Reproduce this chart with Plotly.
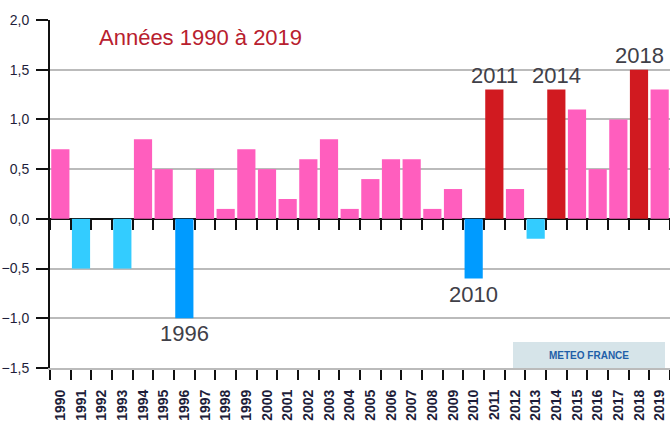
import plotly.graph_objects as go

years = [str(y) for y in range(1990, 2020)]
values = [0.7, -0.5, 0.0, -0.5, 0.8, 0.5, -1.0, 0.5, 0.1, 0.7,
          0.5, 0.2, 0.6, 0.8, 0.1, 0.4, 0.6, 0.6, 0.1, 0.3,
          -0.6, 1.3, 0.3, -0.2, 1.3, 1.1, 0.5, 1.0, 1.5, 1.3]
highlight_years = ["1996", "2010", "2011", "2014", "2018"]

PINK = "#FF5EBE"
RED = "#D11A20"
LBLUE = "#33CCFF"
BLUE = "#009BFF"

colors = []
for y, v in zip(years, values):
    if y in highlight_years:
        colors.append(RED if v > 0 else BLUE)
    else:
        colors.append(PINK if v >= 0 else LBLUE)

FONT = "Liberation Sans, Arial, sans-serif"

fig = go.Figure()
fig.add_trace(go.Bar(x=years, y=values, marker=dict(color=colors, line=dict(width=0)),
                     hoverinfo="x+y"))
# invisible helper trace so the tick axis drawn along the zero line is rendered
fig.add_trace(go.Scatter(x=years, y=values, xaxis="x2", mode="markers",
                         marker=dict(opacity=0), hoverinfo="skip", showlegend=False))

ymin, ymax = -1.5, 2.0

annotations = [
    dict(text="Années 1990 à 2019", xref="paper", yref="paper", x=0.076, y=0.951,
         xanchor="left", yanchor="middle", showarrow=False,
         font=dict(family=FONT, size=22, color="#B8202E")),
]
for i, (y, v) in enumerate(zip(years, values)):
    if y in highlight_years:
        annotations.append(dict(text=y, x=i, y=v, xref="x", yref="y", showarrow=False,
                                xanchor="center", yanchor="bottom" if v > 0 else "top",
                                yshift=0 if v > 0 else -1,
                                font=dict(family=FONT, size=22, color="#404048")))
annotations.append(dict(text="<b>METEO FRANCE</b>", xref="paper", yref="paper",
                        x=(589 - 50) / 620, y=(368 - 355) / 348, xanchor="center", yanchor="middle",
                        showarrow=False, font=dict(family=FONT, size=10, color="#1F5FA8")))

common_x = dict(type="category", categoryorder="array", categoryarray=years,
                range=[-0.5, 29.5], tickson="boundaries",
                ticks="outside", ticklen=10, tickwidth=2, tickcolor="#111",
                showgrid=False, zeroline=False, automargin=False)

fig.update_layout(
    width=670, height=430,
    margin=dict(l=50, r=0, t=20, b=62, autoexpand=False),
    paper_bgcolor="white", plot_bgcolor="white",
    separators=", ",
    bargap=0.12,
    showlegend=False,
    annotations=annotations,
    shapes=[dict(type="rect", xref="paper", yref="paper",
                 x0=(513 - 50) / 620, x1=(665 - 50) / 620,
                 y0=0, y1=(368 - 342) / 348,
                 fillcolor="#D6E4E9", line=dict(width=0), layer="below")],
    xaxis=dict(**common_x, tickangle=-90,
               showline=True, linecolor="#BBBBBB", linewidth=2,
               tickfont=dict(family=FONT, size=14, color="#1E1E3A", weight="bold"),
               ticklabelstandoff=14),
    xaxis2=dict(**common_x, overlaying="x", anchor="free",
                position=(0 - ymin) / (ymax - ymin),
                showticklabels=False, showline=False),
    yaxis=dict(range=[ymin, ymax], tickmode="linear", tick0=-1.5, dtick=0.5,
               tickformat=".1f", ticks="outside", ticklen=12, tickwidth=2, tickcolor="#111",
               showline=True, linecolor="#111", linewidth=2,
               showgrid=True, gridcolor="#BBBBBB", gridwidth=2,
               zeroline=True, zerolinecolor="#111", zerolinewidth=2,
               tickfont=dict(family=FONT, size=14, color="#1E1E3A"),
               ticklabelstandoff=4, automargin=False),
)

fig.write_html("out.html", config={"displayModeBar": False},
               post_script="document.body.style.margin='0px';document.body.style.overflow='hidden';")
